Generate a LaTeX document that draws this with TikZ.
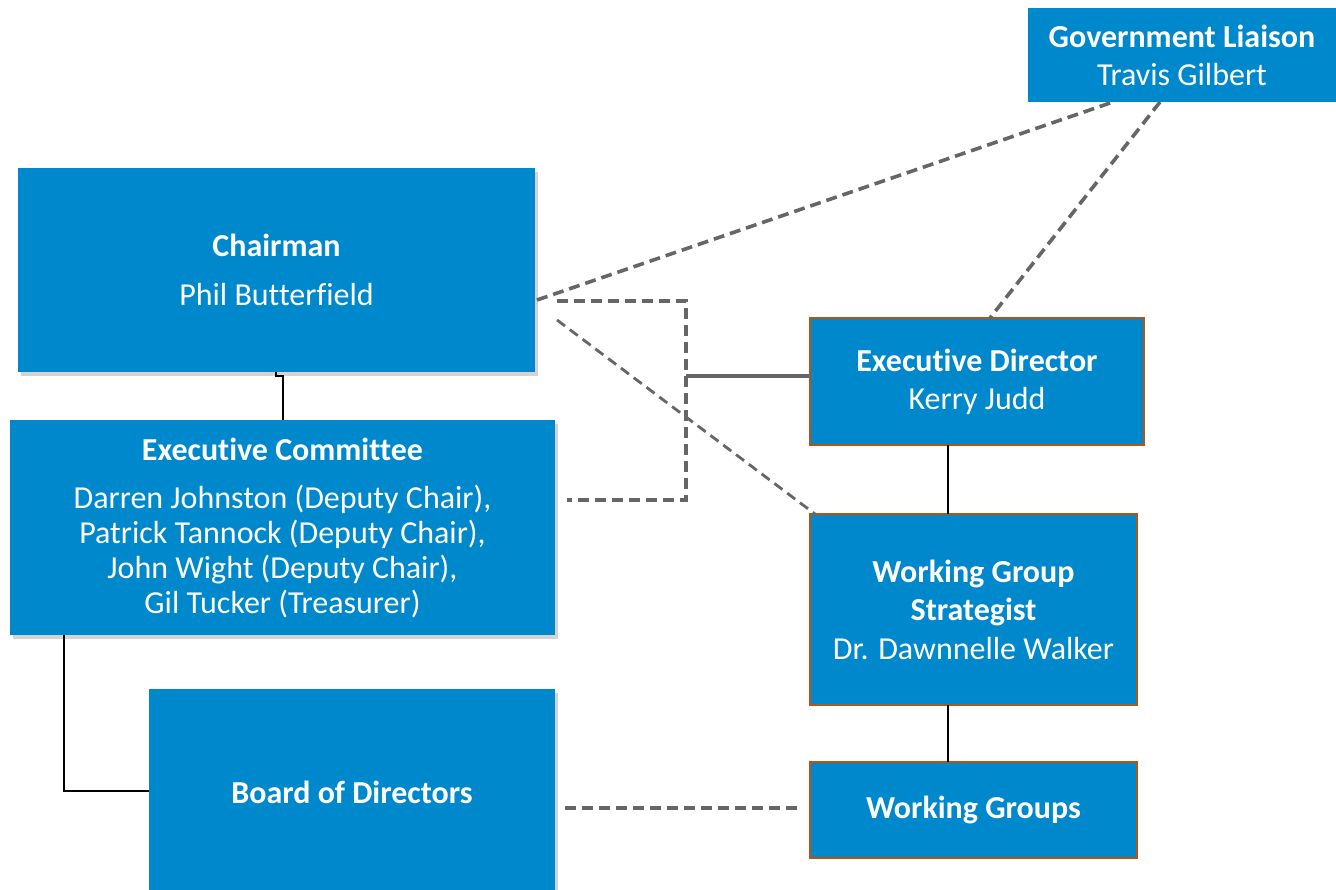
\documentclass[tikz,border=0pt]{standalone}
\usepackage{fontspec}
\setmainfont{Carlito}[Ligatures={NoCommon}]
\usetikzlibrary{shadows,calc}
\definecolor{boxblue}{HTML}{0088CC}
\definecolor{boxedge}{HTML}{B8540F}
\definecolor{dashgray}{HTML}{666666}
\tikzset{
  orgbox/.style={rectangle, fill=boxblue, text=white, align=center, inner sep=0pt, outer sep=0pt,
    anchor=north west, font=\fontsize{32}{38}\selectfont},
  shadowed/.style={drop shadow={opacity=0.35, shadow xshift=3pt, shadow yshift=-4pt}},
  edged/.style={draw=boxedge, line width=2.2pt},
  solidlink/.style={draw=black, line width=1.8pt},
  dashlink/.style={draw=dashgray, line width=3.6pt, dash pattern=on 11pt off 6pt},
  thindash/.style={draw=dashgray, line width=2.8pt, dash pattern=on 10pt off 6pt},
}
\begin{document}
\begin{tikzpicture}[x=1pt,y=-1pt]
\useasboundingbox (0,0) rectangle (1336,890);
% boxes
\node[orgbox, minimum width=308, minimum height=94] (gov) at (1028,8)
  {\textbf{Government Liaison}\\Travis Gilbert};
\node[orgbox, shadowed, minimum width=517, minimum height=204] (chair) at (18,168)
  {\textbf{Chairman}\\[11pt]Phil Butterfield};
\node[orgbox, shadowed, minimum width=545, minimum height=215, font=\fontsize{32}{35}\selectfont] (exec) at (10,420)
  {\textbf{Executive Committee}\\[13pt]Darren Johnston (Deputy Chair),\\Patrick Tannock (Deputy Chair),\\John Wight (Deputy Chair),\\Gil Tucker (Treasurer)};
\node[orgbox, shadowed, minimum width=406, minimum height=206] (board) at (149,689)
  {\textbf{Board of Directors}};
\node[orgbox, edged, minimum width=334, minimum height=127] (ed) at (810,318)
  {\textbf{Executive Director}\\Kerry Judd};
\node[orgbox, edged, minimum width=327, minimum height=191, font=\fontsize{32}{38.5}\selectfont] (wgs) at (810,514)
  {\textbf{Working Group}\\\textbf{Strategist}\\Dr. Dawnnelle Walker};
\node[orgbox, edged, minimum width=327, minimum height=96] (wg) at (810,762)
  {\textbf{Working Groups}};
% helper coordinates
\coordinate (c1) at (537,300);
\coordinate (g1) at (1113,102);
\coordinate (g2) at (1160,102);
\coordinate (e1) at (990,318);
\coordinate (c2) at (557,320);
\coordinate (w1) at (815,514);
\coordinate (c3) at (557,301);
\coordinate (k1) at (686,301);
\coordinate (k2) at (686,500);
\coordinate (x1) at (567,500);
\coordinate (k3) at (686,376);
\coordinate (b1) at (565,808);
\coordinate (w2) at (803,808);
% solid links
\draw[solidlink] (chair.south -| 276,0) -- ++(0,4) -| (exec.north -| 283,0);
\draw[solidlink] (exec.south -| 64,0) |- (board.west |- 0,791);
\draw[solidlink] (ed.south -| 948,0) -- (wgs.north -| 948,0);
\draw[solidlink] (wgs.south -| 948,0) -- (wg.north -| 948,0);
% dashed links
\draw[dashlink] (c1) -- (g1);
\draw[dashlink] (g2) -- (e1);
\draw[thindash] (c2) -- (w1);
\draw[dashlink] (c3) -- (k1) -- (k2) -- (x1);
\draw[draw=dashgray, line width=3.6pt] (k3) -- (ed.west |- k3);
\draw[dashlink] (b1) -- (w2);
\end{tikzpicture}
\end{document}
